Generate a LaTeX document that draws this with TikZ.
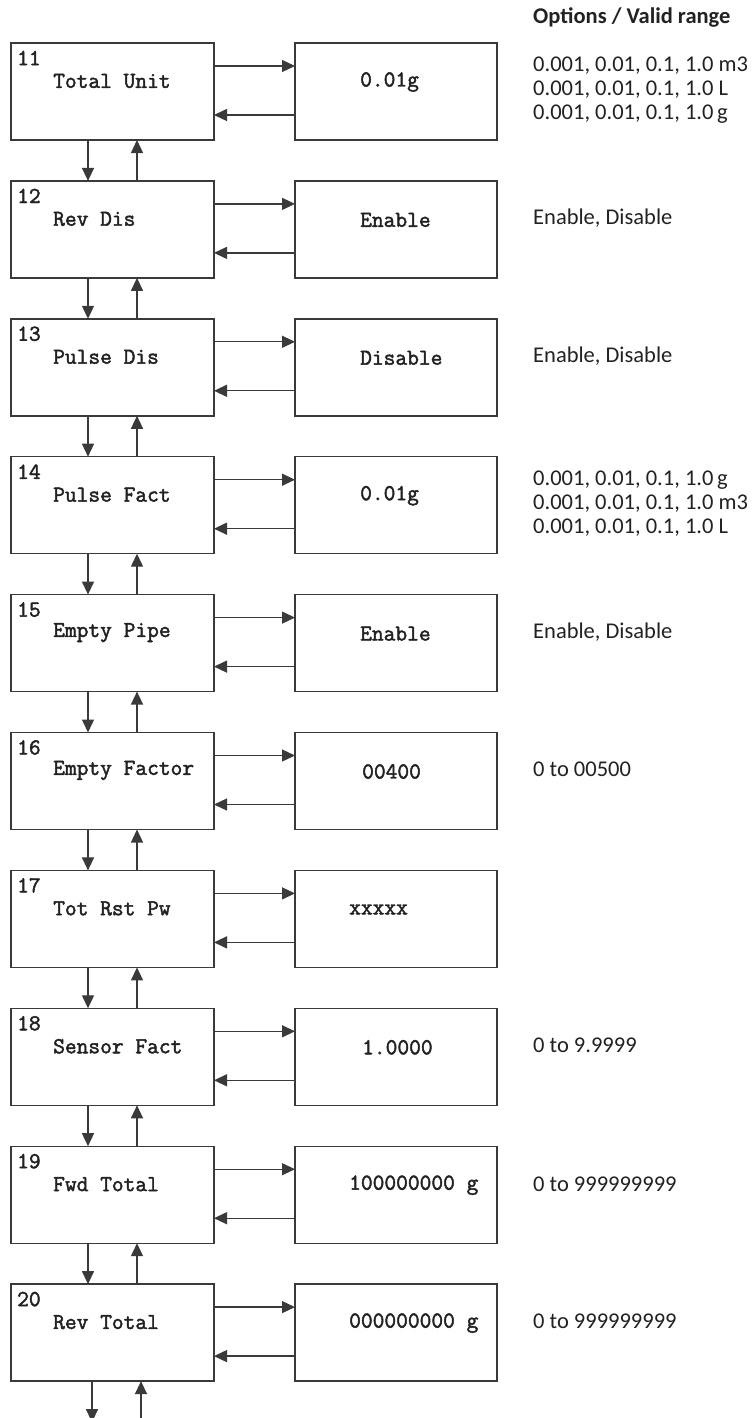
\documentclass[tikz,border=0pt]{standalone}
\usepackage{fontspec}
\setmainfont{Carlito}
\newfontfamily\courfont{Latin Modern Mono}[AutoFakeBold=2]
\usetikzlibrary{arrows.meta}
\definecolor{ln}{HTML}{3A3A3A}
\definecolor{tx}{HTML}{222222}
\tikzset{
  lbox/.style={draw=ln, line width=1.4pt, minimum width=203pt, minimum height=97pt, anchor=north west, inner sep=0pt, outer sep=0pt, fill=white},
  rbox/.style={lbox, minimum width=202pt},
  arr/.style={draw=ln, line width=1.3pt, -{Triangle[length=13pt,width=12pt]}},
  montxt/.style={anchor=west, inner sep=0pt, text=tx, font=\fontsize{22.8}{24}\selectfont\courfont\bfseries},
  opttxt/.style={anchor=west, inner sep=0pt, text=tx, align=left, font=\fontsize{22.5}{24}\selectfont},
}
\begin{document}
\begin{tikzpicture}[x=1pt,y=-1pt]
\fill[white] (0,0) rectangle (754,1418);
\useasboundingbox (0,0) rectangle (754,1418);
\node[opttxt, font=\fontsize{22.5}{24}\selectfont\bfseries] (title) at (533,17) {Options / Valid range};
\foreach \i/\nm/\val/\vx [count=\k from 0] in {
  11/Total Unit/0.01g/360,
  12/Rev Dis/Enable/360,
  13/Pulse Dis/Disable/360,
  14/Pulse Fact/0.01g/360,
  15/Empty Pipe/Enable/360,
  16/Empty Factor/00400/362,
  17/Tot Rst Pw/xxxxx/349,
  18/Sensor Fact/1.0000/362,
  19/Fwd Total/100000000 g/349,
  20/Rev Total/000000000 g/349}{
  \pgfmathsetmacro{\T}{43+137.9*\k}
  \node[lbox] (L\i) at (11,\T) {};
  \node[rbox] (R\i) at (295,\T) {};
  \node[montxt] (N\i) at (17,\T+15) {\i};
  \node[montxt] (M\i) at (53,\T+38) {\nm};
  \node[montxt] (V\i) at (\vx,\T+39) {\val};
  \draw[arr] ([yshift=25.5pt]L\i.east) -- ([yshift=25.5pt]R\i.west);
  \draw[arr] ([yshift=-23.5pt]R\i.west) -- ([yshift=-23.5pt]L\i.east);
}
\foreach \i in {11,...,19}{
  \pgfmathtruncatemacro{\j}{\i+1}
  \draw[arr] ([xshift=-24.5pt]L\i.south) -- ([xshift=-24.5pt]L\j.north);
  \draw[arr] ([xshift=24.5pt]L\j.north) -- ([xshift=24.5pt]L\i.south);
}
\path ([xshift=-20.5pt,yshift=-41pt]L20.south) coordinate (bdown);
\path ([xshift=28.5pt,yshift=-38pt]L20.south) coordinate (bup);
\draw[arr] ([xshift=-20.5pt]L20.south) -- (bdown);
\draw[arr] (bup) -- ([xshift=28.5pt]L20.south);
\node[opttxt] (O11) at (533,90.5) {0.001, 0.01, 0.1, 1.0 m3\\0.001, 0.01, 0.1, 1.0 L\\0.001, 0.01, 0.1, 1.0\,g};
\node[opttxt] (O12) at (533,218) {Enable, Disable};
\node[opttxt] (O13) at (533,356) {Enable, Disable};
\node[opttxt] (O14) at (533,504) {0.001, 0.01, 0.1, 1.0\,g\\0.001, 0.01, 0.1, 1.0 m3\\0.001, 0.01, 0.1, 1.0 L};
\node[opttxt] (O15) at (533,632) {Enable, Disable};
\node[opttxt] (O16) at (533,769) {0 to 00500};
\node[opttxt] (O18) at (533,1045) {0 to 9.9999};
\node[opttxt] (O19) at (533,1184) {0 to 999999999};
\node[opttxt] (O20) at (533,1321) {0 to 999999999};
\end{tikzpicture}
\end{document}
